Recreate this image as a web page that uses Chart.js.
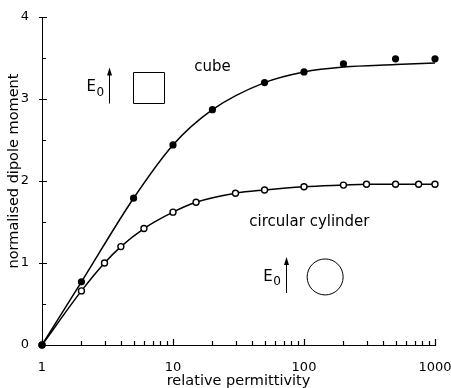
<!DOCTYPE html>
<html>
<head>
<meta charset="utf-8">
<script src="https://cdn.jsdelivr.net/npm/chart.js@4/dist/chart.umd.min.js"></script>
<style>
  html, body { margin: 0; padding: 0; background: #fff; }
</style>
</head>
<body>
<canvas id="chart" width="451" height="388"></canvas>
<script>
// cube: measured points and the theory curve (curve sits a bit under the last points)
const cubePermittivity = [1, 2, 5, 10, 20, 50, 100, 200, 500, 1000];
const cubeMoment = [0, 0.77, 1.79, 2.44, 2.87, 3.20, 3.33, 3.43, 3.49, 3.49];
const cubeCurve = [0, 0.77, 1.79, 2.44, 2.87, 3.20, 3.33, 3.39, 3.42, 3.44];

// circular cylinder
const cylPermittivity = [1, 2, 3, 4, 6, 10, 15, 30, 50, 100, 200, 300, 500, 750, 1000];
const cylMoment = [0, 0.66, 1.00, 1.20, 1.42, 1.62, 1.74, 1.85, 1.89, 1.93, 1.95, 1.96, 1.96, 1.96, 1.96];

// axis ticks
const xLabelTicks = [1, 10, 100, 1000];
const xMinorSteps = [2, 3, 4, 5, 6, 7, 8, 9];
const yLabelTicks = [0, 1, 2, 3, 4];
const yMinorTicks = [0.5, 1.5, 2.5, 3.5];

const xAllTicks = [];
xLabelTicks.forEach((d, i) => {
  xAllTicks.push(d);
  if (i < xLabelTicks.length - 1) xMinorSteps.forEach(s => xAllTicks.push(d * s));
});
const yAllTicks = yLabelTicks.concat(yMinorTicks).sort((a, b) => a - b);

const toPoints = (xs, ys) => xs.map((x, i) => ({ x: x, y: ys[i] }));

const FONT = "'DejaVu Sans', sans-serif";

// inward tick marks, labels and the two little field sketches
const extras = {
  id: 'extras',
  afterDraw(chart) {
    const { ctx, chartArea: area, scales: { x, y } } = chart;
    ctx.save();
    ctx.strokeStyle = '#000';
    ctx.fillStyle = '#000';
    ctx.lineWidth = 1.2;

    ctx.beginPath();
    xAllTicks.forEach(v => {
      const px = Math.round(x.getPixelForValue(v)) + 0.5;
      const len = xLabelTicks.includes(v) ? 6 : 4;
      ctx.moveTo(px, area.bottom);
      ctx.lineTo(px, area.bottom - len);
    });
    yAllTicks.forEach(v => {
      const py = Math.round(y.getPixelForValue(v)) + 0.5;
      const major = yLabelTicks.includes(v);
      ctx.moveTo(area.left - (major ? 3 : 0), py);
      ctx.lineTo(area.left + (major ? 5 : 4), py);
    });
    ctx.stroke();
    ctx.lineWidth = 1;

    // y axis title
    ctx.save();
    ctx.translate(area.left - 28, (area.top + area.bottom) / 2 - 10);
    ctx.rotate(-Math.PI / 2);
    ctx.font = '14.5px ' + FONT;
    ctx.textAlign = 'center';
    ctx.textBaseline = 'middle';
    ctx.fillText('normalised dipole moment', 0, 0);
    ctx.restore();

    // curve names
    ctx.font = '15px ' + FONT;
    ctx.textAlign = 'center';
    ctx.textBaseline = 'middle';
    ctx.fillText('cube', x.getPixelForValue(20), y.getPixelForValue(3.39));
    ctx.fillText('circular cylinder', x.getPixelForValue(110), y.getPixelForValue(1.50));

    const drawInset = (cx, cy, shape) => {
      // E0 label
      ctx.textAlign = 'left';
      ctx.font = '15px ' + FONT;
      ctx.fillText('E', cx - 62, cy);
      ctx.font = '12px ' + FONT;
      ctx.fillText('0', cx - 52, cy + 5);
      // arrow
      const ax = Math.round(cx - 39) + 0.5;
      ctx.beginPath();
      ctx.moveTo(ax, cy + 16);
      ctx.lineTo(ax, cy - 14);
      ctx.stroke();
      ctx.beginPath();
      ctx.moveTo(ax, cy - 20);
      ctx.lineTo(ax - 2.5, cy - 12);
      ctx.lineTo(ax + 2.5, cy - 12);
      ctx.closePath();
      ctx.fill();
      ctx.beginPath();
      if (shape === 'square') {
        ctx.rect(Math.round(cx - 15.5) + 0.5, Math.round(cy - 15.5) + 0.5, 31, 31);
      } else {
        ctx.arc(cx, cy, 18, 0, Math.PI * 2);
      }
      ctx.stroke();
    };
    drawInset(x.getPixelForValue(6.5), y.getPixelForValue(3.14), 'square');
    drawInset(x.getPixelForValue(145), y.getPixelForValue(0.83), 'circle');

    ctx.restore();
  }
};

new Chart(document.getElementById('chart'), {
  type: 'line',
  data: {
    datasets: [
      {
        data: toPoints(cubePermittivity, cubeCurve),
        borderColor: '#000', borderWidth: 1.5, pointRadius: 0,
        cubicInterpolationMode: 'monotone', order: 4, clip: false
      },
      {
        data: toPoints(cylPermittivity, cylMoment),
        borderColor: '#000', borderWidth: 1.5, pointRadius: 0,
        cubicInterpolationMode: 'monotone', order: 3, clip: false
      },
      {
        data: toPoints(cylPermittivity, cylMoment),
        showLine: false, pointRadius: 3, pointBorderWidth: 1.4,
        pointBackgroundColor: '#fff', pointBorderColor: '#000', order: 2, clip: false
      },
      {
        data: toPoints(cubePermittivity, cubeMoment),
        showLine: false, pointRadius: 3.6, pointBorderWidth: 0,
        pointBackgroundColor: '#000', pointBorderColor: '#000', order: 1, clip: false
      }
    ]
  },
  options: {
    responsive: false,
    animation: false,
    layout: { padding: { top: 17, right: 16, bottom: 0, left: 0 } },
    plugins: { legend: { display: false }, tooltip: { enabled: false } },
    scales: {
      x: {
        type: 'logarithmic',
        min: 1,
        max: 1000,
        afterBuildTicks: s => { s.ticks = xAllTicks.map(v => ({ value: v })); },
        afterFit: s => { s.height = 43; s.paddingLeft = 0; s.paddingRight = 0; },
        grid: { display: false },
        border: { color: '#000', width: 1 },
        ticks: {
          autoSkip: false,
          maxRotation: 0,
          padding: 7,
          color: '#000',
          font: { family: FONT, size: 13 },
          callback: v => xLabelTicks.includes(v) ? String(v) : ''
        },
        title: {
          display: true,
          text: 'relative permittivity',
          color: '#000',
          padding: 0,
          font: { family: FONT, size: 14.5, lineHeight: 1 }
        }
      },
      y: {
        min: 0,
        max: 4,
        afterBuildTicks: s => { s.ticks = yAllTicks.map(v => ({ value: v })); },
        afterFit: s => { s.width = 42; s.paddingTop = 0; s.paddingBottom = 0; },
        grid: { display: false },
        border: { color: '#000', width: 1 },
        ticks: {
          autoSkip: false,
          padding: 5,
          color: '#000',
          font: { family: FONT, size: 13 },
          callback: v => yLabelTicks.includes(v) ? String(v) : ''
        }
      }
    }
  },
  plugins: [extras]
});
</script>
</body>
</html>
